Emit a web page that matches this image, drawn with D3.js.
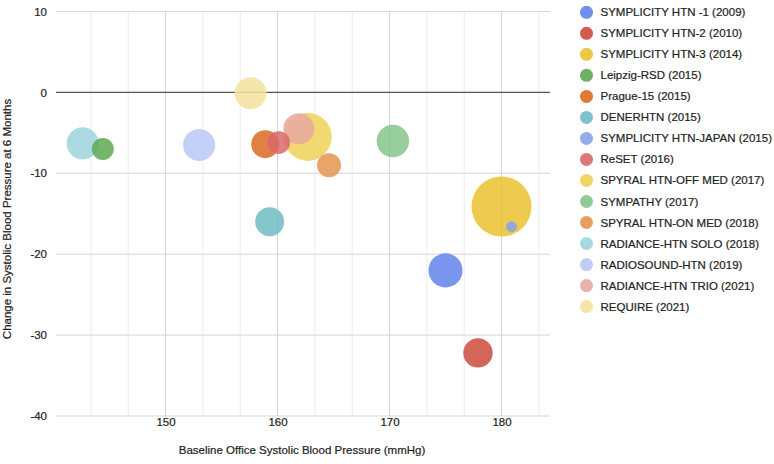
<!DOCTYPE html>
<html>
<head>
<meta charset="utf-8">
<script src="https://cdn.jsdelivr.net/npm/d3@7"></script>
<style>
  html, body { margin: 0; padding: 0; background: #fff; }
  svg { display: block; font-family: "Liberation Sans", Arial, sans-serif; }
  text { stroke: #222; stroke-width: 0.2px; }
</style>
</head>
<body>
<svg id="chart" width="774" height="464"></svg>
<script>
const trials = [
  "SYMPLICITY HTN -1 (2009)", "SYMPLICITY HTN-2 (2010)", "SYMPLICITY HTN-3 (2014)",
  "Leipzig-RSD (2015)", "Prague-15 (2015)", "DENERHTN (2015)",
  "SYMPLICITY HTN-JAPAN (2015)", "ReSET (2016)", "SPYRAL HTN-OFF MED (2017)",
  "SYMPATHY (2017)", "SPYRAL HTN-ON MED (2018)", "RADIANCE-HTN SOLO (2018)",
  "RADIOSOUND-HTN (2019)", "RADIANCE-HTN TRIO (2021)", "REQUIRE (2021)"
];
const baselineSBP = [175.0, 177.9, 180.0, 144.4, 158.9, 159.3, 180.9, 160.1, 162.7, 170.3, 164.6, 142.6, 153.0, 161.9, 157.6];
const changeSBP   = [-22.0, -32.2, -14.1, -7.0, -6.4, -16.0, -16.6, -6.2, -5.5, -6.0, -9.0, -6.3, -6.5, -4.5, -0.1];
const bubbleSize  = [273, 226, 535, 152, 212, 222, 41, 160, 414, 257, 172, 253, 253, 242, 253];
const colors = ["#6283ea", "#cc4a3c", "#ebc22f", "#5ea952", "#dc6a22", "#6fbcc3",
                "#8aa2ea", "#d9686a", "#f0d157", "#86c48c", "#e5944f", "#9fd3dc",
                "#b8c8f6", "#e6a8a0", "#f3e39c"];
const xTicks = [150, 160, 170, 180];
const xMinorTicks = [143.333, 146.667, 153.333, 156.667, 163.333, 166.667, 173.333, 176.667, 183.333];
const yTicks = [10, 0, -10, -20, -30, -40];
const xTitle = "Baseline Office Systolic Blood Pressure (mmHg)";
const yTitle = "Change in Systolic Blood Pressure at 6 Months";

const svg = d3.select("#chart");
const plotLeft = 56, plotRight = 550, plotTop = 11.5, plotBottom = 416;
const fs = 11.5;

const x = d3.scaleLinear().domain([140.22, 184.33]).range([plotLeft, plotRight]);
const y = d3.scaleLinear().domain([-40, 10]).range([plotBottom, plotTop]);
const r = d3.scaleLinear().domain([d3.min(bubbleSize), d3.max(bubbleSize)]).range([5.5, 30]);

// minor vertical gridlines
svg.append("g").selectAll("line").data(xMinorTicks).join("line")
  .attr("x1", d => x(d)).attr("x2", d => x(d))
  .attr("y1", plotTop).attr("y2", plotBottom)
  .attr("stroke", "#ececec").attr("stroke-width", 1);

// major vertical gridlines
svg.append("g").selectAll("line").data(xTicks).join("line")
  .attr("x1", d => x(d)).attr("x2", d => x(d))
  .attr("y1", plotTop).attr("y2", plotBottom)
  .attr("stroke", "#d6d6d6").attr("stroke-width", 1);

// horizontal gridlines
svg.append("g").selectAll("line").data(yTicks.filter(d => d !== 0)).join("line")
  .attr("x1", plotLeft).attr("x2", plotRight)
  .attr("y1", d => y(d)).attr("y2", d => y(d))
  .attr("stroke", "#d6d6d6").attr("stroke-width", 1);

// zero line
svg.append("line")
  .attr("x1", plotLeft).attr("x2", plotRight)
  .attr("y1", y(0)).attr("y2", y(0))
  .attr("stroke", "#555").attr("stroke-width", 1.3);

// y axis labels
const yAxis = d3.axisLeft(y).tickValues(yTicks).tickSize(0).tickPadding(0).tickFormat(d => String(d));
const yg = svg.append("g").attr("transform", `translate(47,0)`).call(yAxis);
yg.select(".domain").remove();
yg.selectAll("text").attr("font-size", fs).attr("fill", "#222")
  .attr("font-family", "'Liberation Sans', Arial, sans-serif");

// x axis labels
const xAxis = d3.axisBottom(x).tickValues(xTicks).tickSize(0).tickPadding(0).tickFormat(d => String(d));
const xg = svg.append("g").attr("transform", `translate(0,418)`).call(xAxis);
xg.select(".domain").remove();
xg.selectAll("text").attr("font-size", fs).attr("fill", "#222")
  .attr("font-family", "'Liberation Sans', Arial, sans-serif");

// bubbles (larger first)
const data = trials.map((t, i) => ({ t, x: baselineSBP[i], y: changeSBP[i], s: bubbleSize[i], c: colors[i] }));
const sorted = data.slice().sort((a, b) => b.s - a.s);
svg.append("g").selectAll("circle").data(sorted).join("circle")
  .attr("cx", d => x(d.x)).attr("cy", d => y(d.y)).attr("r", d => r(d.s))
  .attr("fill", d => d.c).attr("fill-opacity", 0.85);

// axis titles
svg.append("text").attr("x", 302).attr("y", 454).attr("text-anchor", "middle")
  .attr("font-size", fs).attr("fill", "#222").text(xTitle);
svg.append("text").attr("transform", "translate(11,219) rotate(-90)")
  .attr("text-anchor", "middle").attr("font-size", fs).attr("fill", "#222").text(yTitle);

// legend
const lg = svg.append("g").selectAll("g").data(data).join("g")
  .attr("transform", (d, i) => `translate(586.5,${12.3 + i * 21.02})`);
lg.append("circle").attr("r", 6.5).attr("fill", d => d.c).attr("fill-opacity", 0.9);
lg.append("text").attr("x", 14).attr("dy", "0.35em").attr("font-size", fs).attr("fill", "#222")
  .text(d => d.t);
</script>
</body>
</html>
